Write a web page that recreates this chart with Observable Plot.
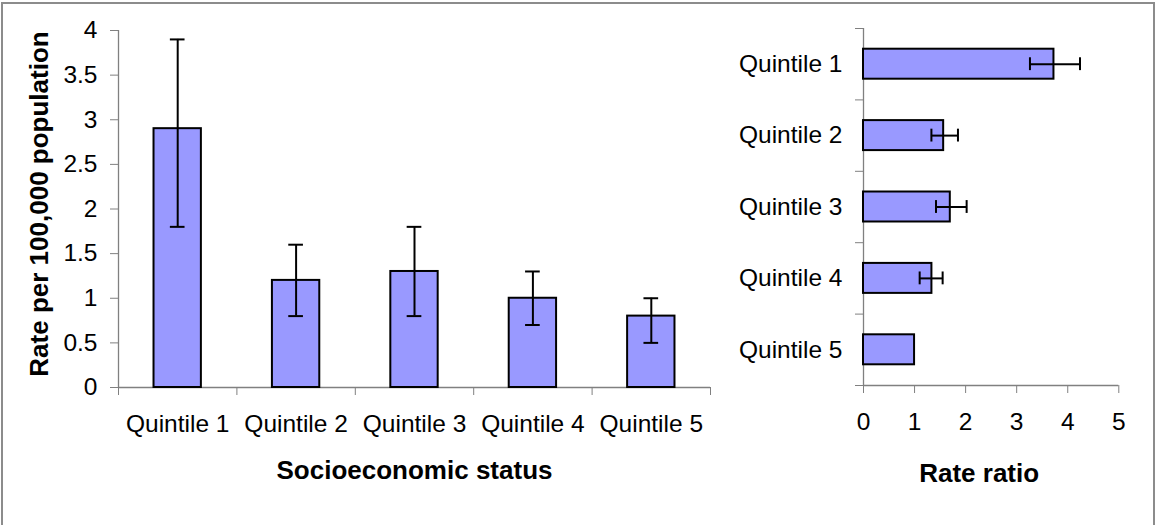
<!DOCTYPE html>
<html>
<head>
<meta charset="utf-8">
<script src="https://cdn.jsdelivr.net/npm/d3@7"></script>
<script src="https://cdn.jsdelivr.net/npm/@observablehq/plot@0.6"></script>
<style>
  html, body { margin: 0; padding: 0; background: #fff; }
  #wrap { position: relative; width: 1155px; height: 525px; overflow: hidden; background: #fff; }
  #frame { position: absolute; left: 1px; top: 2px; width: 1150px; height: 600px; border: 2px solid #8c8c8c; }
  #left { position: absolute; left: 0; top: 0; }
  #right { position: absolute; left: 720px; top: 0; }
</style>
</head>
<body>
<div id="wrap"><div id="frame"></div><div id="left"></div><div id="right"></div></div>
<script>
// ---- data ----
const categories = ["Quintile 1", "Quintile 2", "Quintile 3", "Quintile 4", "Quintile 5"];
const rates     = [2.9, 1.2, 1.3, 1.0, 0.8];
const rateLow   = [1.8, 0.8, 0.8, 0.7, 0.5];
const rateHigh  = [3.9, 1.6, 1.8, 1.3, 1.0];
const rateRatio = [3.73, 1.57, 1.70, 1.34, 1.00];
const ratioLow  = [3.26, 1.33, 1.42, 1.10, null];
const ratioHigh = [4.24, 1.85, 2.02, 1.55, null];
const rateTicks  = [0, 0.5, 1, 1.5, 2, 2.5, 3, 3.5, 4];
const ratioTicks = [0, 1, 2, 3, 4, 5];
const leftYTitle  = "Rate per 100,000 population";
const leftXTitle  = "Socioeconomic status";
const rightXTitle = "Rate ratio";

// ---- styles ----
const FONT = "'Liberation Sans', Arial, sans-serif";
const BAR_FILL = "#9999ff";
const AXIS_GRAY = "#808080";
const TICK_FS = 24.5;
const TITLE_FS = 26;

const rows = categories.map((c, i) => ({
  cat: c, pos: i + 0.5,
  rate: rates[i], lo: rateLow[i], hi: rateHigh[i],
  rr: rateRatio[i], rrLo: ratioLow[i], rrHi: ratioHigh[i]
}));
const n = categories.length;
const boundaries = d3.range(n + 1);

// ---- left chart ----
const barHalfL = 0.2, capHalfL = 0.062;
const left = Plot.plot({
  width: 720, height: 525,
  marginLeft: 118, marginRight: 10, marginTop: 30, marginBottom: 138,
  style: { fontFamily: FONT, fontSize: TICK_FS + "px", background: "none", overflow: "visible" },
  x: { type: "linear", domain: [0, n] },
  y: { type: "linear", domain: [0, 4] },
  marks: [
    Plot.ruleY([0], { stroke: AXIS_GRAY, strokeWidth: 1.3 }),
    Plot.ruleX([0], { stroke: AXIS_GRAY, strokeWidth: 1.3 }),
    Plot.axisY({ ticks: rateTicks, tickSize: 8, tickPadding: 13, tickFormat: d => String(d),
                 stroke: AXIS_GRAY, fill: "black", label: null, fontSize: TICK_FS }),
    Plot.axisX({ ticks: boundaries, tickSize: 8, tickFormat: () => "", stroke: AXIS_GRAY, label: null }),
    Plot.axisX({ ticks: rows.map(d => d.pos), tickSize: 0, tickPadding: 27,
                 tickFormat: d => categories[Math.floor(d)], fill: "black", label: null, fontSize: TICK_FS }),
    Plot.rect(rows, { x1: d => d.pos - barHalfL, x2: d => d.pos + barHalfL, y1: 0, y2: "rate",
                      fill: BAR_FILL, stroke: "black", strokeWidth: 2 }),
    Plot.ruleX(rows, { x: "pos", y1: "lo", y2: "hi", stroke: "black", strokeWidth: 2 }),
    Plot.ruleY(rows, { y: "lo", x1: d => d.pos - capHalfL, x2: d => d.pos + capHalfL, stroke: "black", strokeWidth: 2 }),
    Plot.ruleY(rows, { y: "hi", x1: d => d.pos - capHalfL, x2: d => d.pos + capHalfL, stroke: "black", strokeWidth: 2 }),
    Plot.text([leftXTitle], { text: d => d, frameAnchor: "bottom", dy: 91, fontWeight: "bold", fontSize: TITLE_FS, fill: "black" }),
    Plot.text([leftYTitle], { text: d => d, frameAnchor: "left", textAnchor: "middle", rotate: -90, dx: -79, dy: -5,
                              fontWeight: "bold", fontSize: TITLE_FS, fill: "black" })
  ]
});
document.getElementById("left").appendChild(left);

// ---- right chart ----
const barHalfR = 0.21, capHalfR = 0.09;
const ciRows = rows.filter(d => d.rrLo != null && d.rrHi != null);
const right = Plot.plot({
  width: 432, height: 525,
  marginLeft: 143, marginRight: 33.7, marginTop: 28, marginBottom: 140,
  style: { fontFamily: FONT, fontSize: TICK_FS + "px", background: "none", overflow: "visible" },
  x: { type: "linear", domain: [0, 5] },
  y: { type: "linear", domain: [0, n], reverse: true },
  marks: [
    Plot.ruleX([0], { stroke: AXIS_GRAY, strokeWidth: 1.3 }),
    Plot.ruleY([n], { stroke: AXIS_GRAY, strokeWidth: 1.3 }),
    Plot.axisY({ ticks: boundaries, tickSize: 8, tickFormat: () => "", stroke: AXIS_GRAY, label: null }),
    Plot.axisY({ ticks: rows.map(d => d.pos), tickSize: 0, tickPadding: 21,
                 tickFormat: d => categories[Math.floor(d)], fill: "black", label: null, fontSize: TICK_FS }),
    Plot.axisX({ ticks: ratioTicks, tickSize: 8, tickPadding: 19, tickFormat: d => String(d),
                 stroke: AXIS_GRAY, fill: "black", label: null, fontSize: TICK_FS }),
    Plot.rect(rows, { x1: 0, x2: "rr", y1: d => d.pos - barHalfR, y2: d => d.pos + barHalfR,
                      fill: BAR_FILL, stroke: "black", strokeWidth: 2 }),
    Plot.ruleY(ciRows, { y: "pos", x1: "rrLo", x2: "rrHi", stroke: "black", strokeWidth: 2 }),
    Plot.ruleX(ciRows, { x: "rrLo", y1: d => d.pos - capHalfR, y2: d => d.pos + capHalfR, stroke: "black", strokeWidth: 2 }),
    Plot.ruleX(ciRows, { x: "rrHi", y1: d => d.pos - capHalfR, y2: d => d.pos + capHalfR, stroke: "black", strokeWidth: 2 }),
    Plot.text([rightXTitle], { text: d => d, frameAnchor: "bottom", dy: 96, dx: -12, fontWeight: "bold", fontSize: TITLE_FS, fill: "black" })
  ]
});
document.getElementById("right").appendChild(right);
</script>
</body>
</html>
